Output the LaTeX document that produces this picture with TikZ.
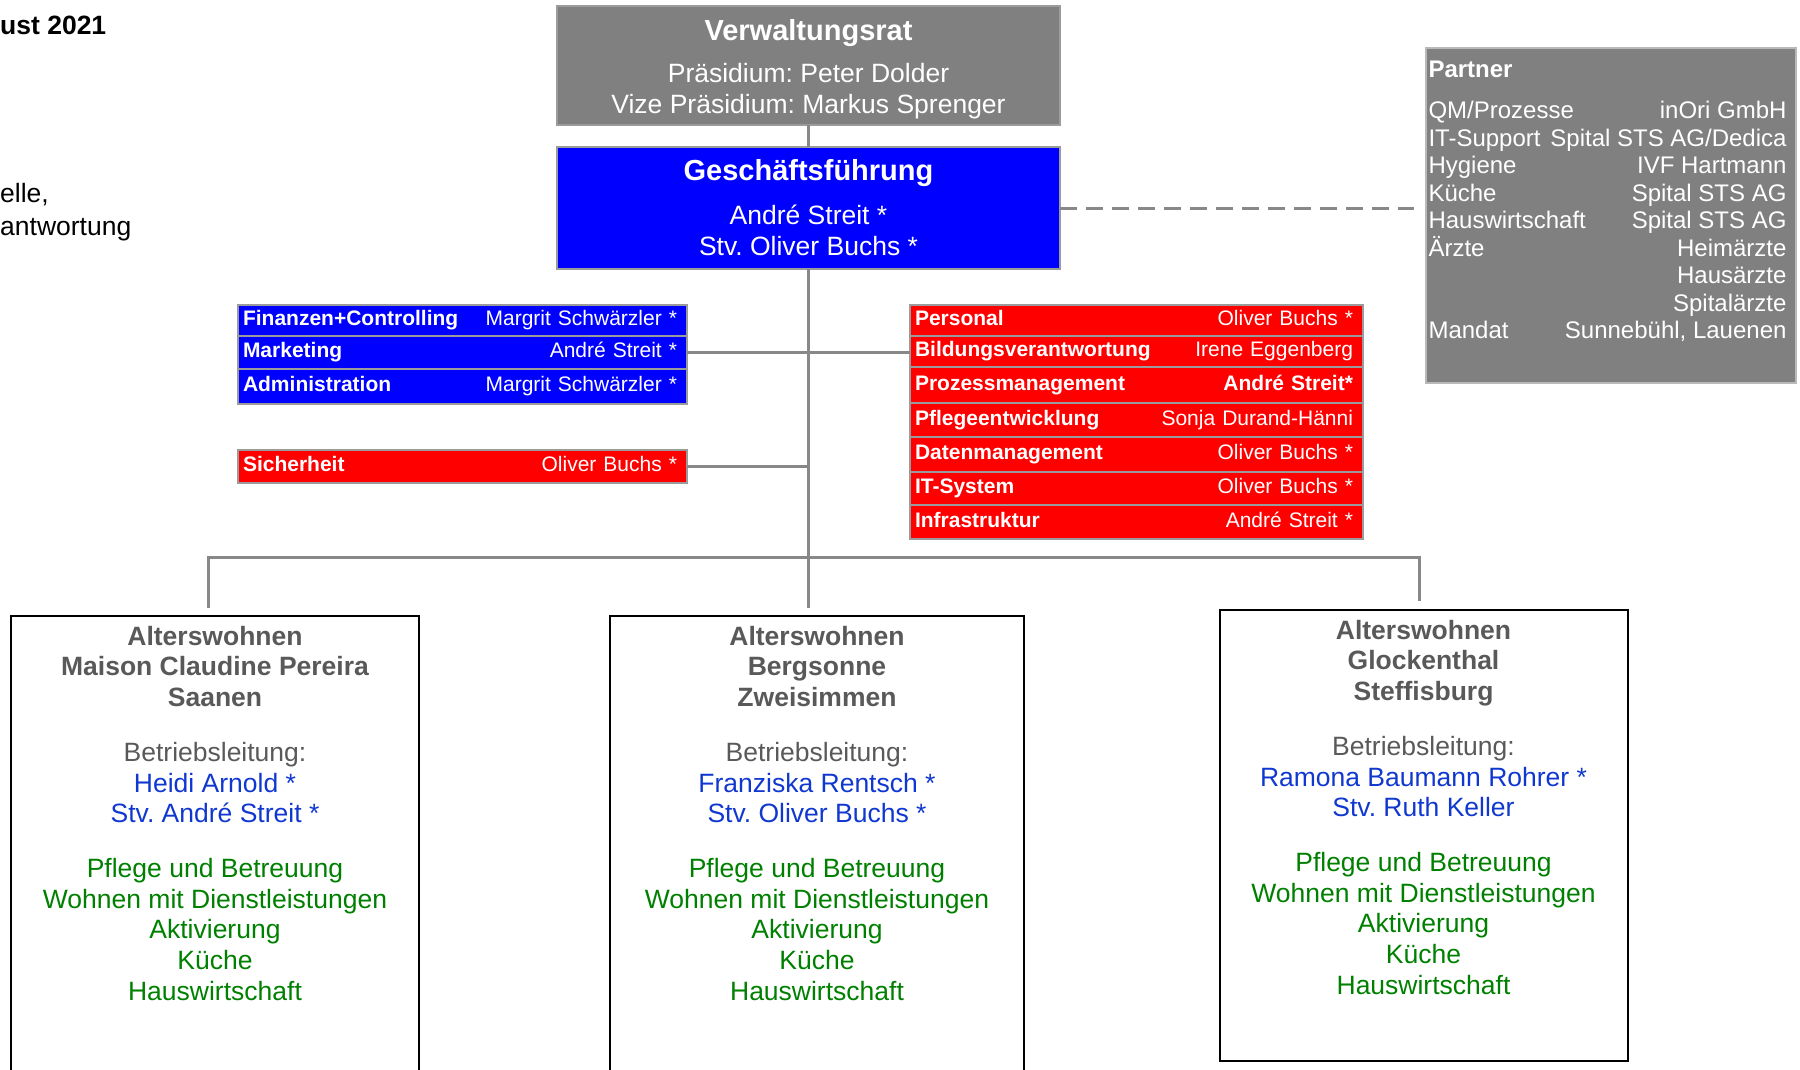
\documentclass[tikz,border=0pt]{standalone}
\usepackage{fontspec}
\setmainfont{Liberation Sans}
\usepackage{xcolor}
\usepackage{tikz}
\usetikzlibrary{positioning,calc}
\frenchspacing
\definecolor{boxGray}{RGB}{128,128,128}
\definecolor{edgeGray}{RGB}{155,155,155}
\definecolor{lineGray}{RGB}{136,136,136}
\definecolor{gfBlue}{RGB}{0,0,255}
\definecolor{unitRed}{RGB}{255,0,0}
\definecolor{titleGray}{RGB}{89,89,89}
\definecolor{leadBlue}{RGB}{16,56,208}
\definecolor{careGreen}{RGB}{0,128,0}
\newcommand{\unitText}[2]{\textbf{#1}\hfill#2\hspace*{5pt}\mbox{}}
\newcommand{\partnerRow}[2]{\mbox{}#1\hfill#2\hspace*{7pt}\mbox{}}
\newcommand{\siteText}[2]{\parbox[t][#1][t]{404pt}{\centering #2}}
\tikzset{
  boardBox/.style={
    rectangle,
    draw=edgeGray,
    line width=2pt,
    fill=boxGray,
    text=white,
    minimum width=503pt,
    minimum height=119pt,
    outer sep=0pt,
    align=center,
    font=\fontsize{26.5}{31}\selectfont
  },
  mgmtBox/.style={
    boardBox,
    fill=gfBlue,
    minimum height=122pt
  },
  unitRow/.style={
    rectangle,
    draw=edgeGray,
    line width=2.5pt,
    text=white,
    text width=439pt,
    text height=15pt,
    text depth=4.5pt,
    inner xsep=5pt,
    inner ysep=0pt,
    outer sep=0pt,
    minimum height=33pt,
    align=left,
    font=\fontsize{21}{24}\selectfont
  },
  fieldRow/.style={
    unitRow,
    fill=unitRed,
    text width=443pt,
    minimum height=#1
  },
  partnerBox/.style={
    rectangle,
    draw=edgeGray!70,
    line width=2pt,
    fill=boxGray,
    text=white,
    inner xsep=2.5pt,
    inner ysep=13pt,
    anchor=north west,
    font=\fontsize{24}{27.5}\selectfont
  },
  siteBox/.style={
    rectangle,
    draw=black,
    line width=2pt,
    inner xsep=2pt,
    inner ysep=10pt,
    anchor=north,
    font=\fontsize{26.5}{30.6}\selectfont
  },
  orgLine/.style={
    draw=lineGray,
    line width=3pt
  },
  partnerLink/.style={
    orgLine,
    dash pattern=on 17pt off 9pt
  }
}
\begin{document}
\begin{tikzpicture}[x=1pt, y=-1pt]
    \useasboundingbox (0,0) rectangle (1800,1069);

    \node[anchor=base west, inner sep=0pt, font=\fontsize{26.5}{31}\selectfont\bfseries] (datum) at (0,34.5) {ust 2021};
    \node[anchor=base west, inner sep=0pt, font=\fontsize{26.5}{33}\selectfont] (noteA) at (0,202.5) {elle,};
    \node[anchor=base west, inner sep=0pt, font=\fontsize{26.5}{33}\selectfont] (noteB) at (0,235.5) {antwortung};

    \node[boardBox, anchor=north] (vr) at (808.5,6) {{\fontsize{29}{31}\selectfont\bfseries\rule{0pt}{28pt}Verwaltungsrat}\\[11.5pt]Präsidium: Peter Dolder\\Vize Präsidium: Markus Sprenger};
    \node[mgmtBox, below=22pt of vr] (gf) {{\fontsize{29}{31}\selectfont\bfseries Geschäftsführung}\\[13pt]André Streit *\\Stv. Oliver Buchs *};

    \node[partnerBox] (partner) at (1425,47) {\parbox[t][309pt][t]{365pt}{\raggedright
        \textbf{Partner}\\[13.5pt]
        \partnerRow{QM/Prozesse}{inOri GmbH}\\
        \partnerRow{IT-Support}{Spital STS AG/Dedica}\\
        \partnerRow{Hygiene}{IVF Hartmann}\\
        \partnerRow{Küche}{Spital STS AG}\\
        \partnerRow{Hauswirtschaft}{Spital STS AG}\\
        \partnerRow{Ärzte}{Heimärzte}\\
        \partnerRow{}{Hausärzte}\\
        \partnerRow{}{Spitalärzte}\\
        \partnerRow{Mandat}{Sunnebühl, Lauenen}}};

    % Stabsstellen links
    \node[unitRow, fill=gfBlue, minimum height=31pt, anchor=north west] (fin) at (238,305) {\unitText{Finanzen+Controlling}{Margrit Schwärzler *}};
    \node[unitRow, fill=gfBlue, below=0pt of fin] (mkt) {\unitText{Marketing}{André Streit *}};
    \node[unitRow, fill=gfBlue, minimum height=35pt, below=0pt of mkt] (adm) {\unitText{Administration}{Margrit Schwärzler *}};
    \node[unitRow, fill=unitRed, anchor=north west] (sich) at (238,450) {\unitText{Sicherheit}{Oliver Buchs *}};

    % Fachbereiche rechts
    \node[fieldRow=31pt, anchor=north west] (pers) at (910,305) {\unitText{Personal}{Oliver Buchs *}};
    \node[fieldRow=31pt, below=0pt of pers] (bild) {\unitText{Bildungsverantwortung}{Irene Eggenberg}};
    \node[fieldRow=36pt, below=0pt of bild] (proz) {\unitText{Prozessmanagement}{\textbf{André Streit*}}};
    \node[fieldRow=34pt, below=0pt of proz] (pfl) {\unitText{Pflegeentwicklung}{Sonja Durand-Hänni}};
    \node[fieldRow=35pt, below=0pt of pfl] (dat) {\unitText{Datenmanagement}{Oliver Buchs *}};
    \node[fieldRow=33pt, below=0pt of dat] (its) {\unitText{IT-System}{Oliver Buchs *}};
    \node[fieldRow=34pt, below=0pt of its] (inf) {\unitText{Infrastruktur}{André Streit *}};

    % Betriebe
    \node[siteBox] (saanen) at (215,615) {\siteText{455pt}{\color{titleGray}\textbf{Alterswohnen\\Maison Claudine Pereira\\Saanen}\\[24.4pt]
        Betriebsleitung:\\\color{leadBlue}Heidi Arnold *\\Stv. André Streit *\\[24.4pt]
        \color{careGreen}Pflege und Betreuung\\Wohnen mit Dienstleistungen\\Aktivierung\\Küche\\Hauswirtschaft}};
    \node[siteBox, inner xsep=5pt] (berg) at (817,615) {\siteText{455pt}{\color{titleGray}\textbf{Alterswohnen\\Bergsonne\\Zweisimmen}\\[24.4pt]
        Betriebsleitung:\\\color{leadBlue}Franziska Rentsch *\\Stv. Oliver Buchs *\\[24.4pt]
        \color{careGreen}Pflege und Betreuung\\Wohnen mit Dienstleistungen\\Aktivierung\\Küche\\Hauswirtschaft}};
    \node[siteBox] (steff) at (1423.5,609) {\siteText{431pt}{\color{titleGray}\textbf{Alterswohnen\\Glockenthal\\Steffisburg}\\[24.4pt]
        Betriebsleitung:\\\color{leadBlue}Ramona Baumann Rohrer *\\Stv. Ruth Keller\\[24.4pt]
        \color{careGreen}Pflege und Betreuung\\Wohnen mit Dienstleistungen\\Aktivierung\\Küche\\Hauswirtschaft}};

    \coordinate (bus) at (810,557);
    \draw[orgLine] (vr.south) -- (gf.north);
    \draw[orgLine] (gf.south) -- ([yshift=7pt]gf.south |- berg.north);
    \draw[orgLine] (mkt.east) -- (mkt.east -| bild.west);
    \draw[orgLine] (sich.east) -- (sich.east -| gf.south);
    \draw[orgLine] ([xshift=-7pt,yshift=7pt]saanen.north) |- (bus) -| ([xshift=-4.5pt,yshift=8pt]steff.north);
    \draw[partnerLink] (gf.east) -- ([xshift=-11pt]partner.west |- gf.east);
\end{tikzpicture}
\end{document}
